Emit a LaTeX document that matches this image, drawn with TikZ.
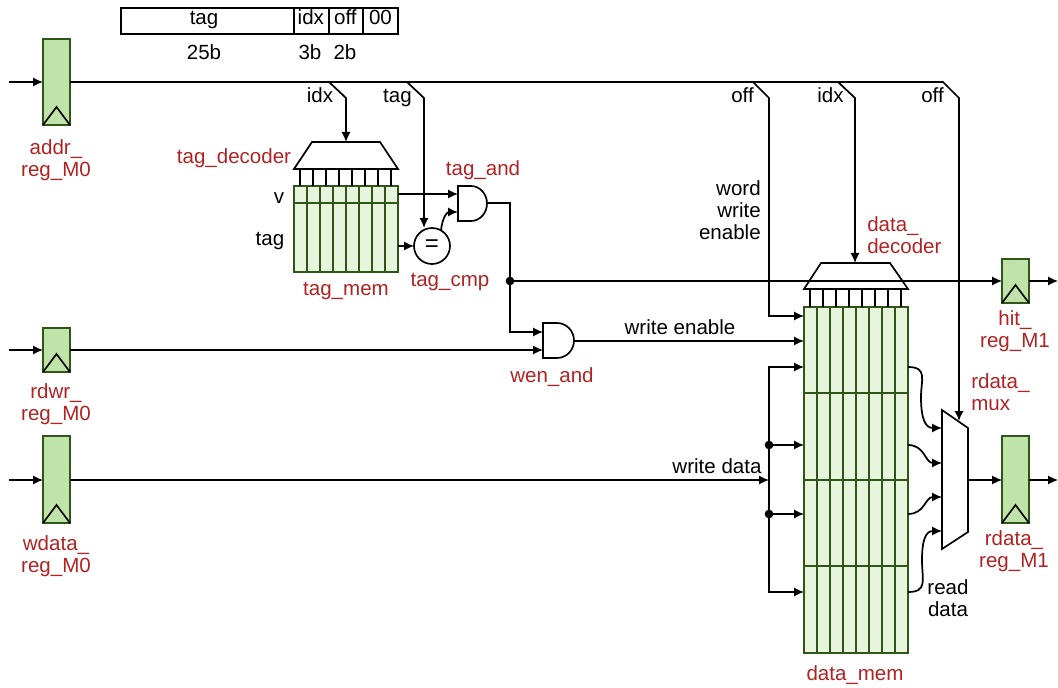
\documentclass[tikz,border=0pt]{standalone}
\usepackage{fontspec}
\setmainfont{Liberation Sans}
\usetikzlibrary{arrows.meta,calc}
\definecolor{regfill}{HTML}{BFE3A8}
\definecolor{memfill}{HTML}{E6F5DC}
\definecolor{gborder}{HTML}{2F5519}
\definecolor{lblred}{HTML}{B22222}
\tikzset{
  wire/.style={line width=1.3pt,black,line join=miter},
  arr/.style={wire,-{Latex[length=7.5pt,width=7pt]}},
  sz/.style 2 args={minimum width=#1*0.75pt,minimum height=#2*0.75pt},
  regbox/.style={draw=gborder,fill=regfill,line width=1.2pt,inner sep=0pt,outer sep=0pt},
  membox/.style={draw=gborder,fill=memfill,line width=1.2pt,inner sep=0pt,outer sep=0pt},
  cellline/.style={draw=gborder,line width=1.3pt},
  txt/.style={font=\fontsize{15.4}{16.6}\selectfont,text=black,inner sep=0pt},
  one/.style={text height=10.5pt,text depth=3.2pt},
  fieldbox/.style={draw=black,line width=1pt,inner sep=0pt,outer sep=0pt,txt,text height=8pt,text depth=3.2pt},
  lbl/.style={txt,text=lblred,align=center},
  dot/.style={circle,fill=black,inner sep=0pt,minimum size=6.5pt},
  decoderbox/.style={inner sep=0pt,outer sep=0pt},
  shape line/.style={draw=black,line width=1.25pt,line join=miter},
}
\begin{document}
\begin{tikzpicture}[x=0.75pt,y=-0.75pt]
\useasboundingbox (0,0) rectangle (1058,688);

% address field
\node[fieldbox,sz={173}{26}] (ftag) at (207.5,21) {tag\kern5.2pt};
\node[fieldbox,sz={35}{26}] (fidx) at (311.5,21) {idx\kern1pt};
\node[fieldbox,sz={34}{26}] (foff) at (346,21) {off\kern1pt};
\node[fieldbox,sz={35}{26}] (fzero) at (380.5,21) {00};
\node[txt,one] (w25) at (204,55) {25b};
\node[txt,one] (w3) at (310,55) {3b};
\node[txt,one] (w2) at (345,55) {2b};

% registers
\node[regbox,sz={27}{86}] (addr) at (56.5,82) {};
\node[regbox,sz={27}{44}] (rdwr) at (56.5,350) {};
\node[regbox,sz={27}{87}] (wdata) at (56.5,479.5) {};
\node[regbox,sz={27}{44}] (hit) at (1015.5,281) {};
\node[regbox,sz={27}{87}] (rdata) at (1015.5,479.5) {};
\draw[shape line] (addr.south west) -- ++(13.5,-18) -- (addr.south east);
\draw[shape line] (rdwr.south west) -- ++(13.5,-18) -- (rdwr.south east);
\draw[shape line] (wdata.south west) -- ++(13.5,-18) -- (wdata.south east);
\draw[shape line] (hit.south west) -- ++(13.5,-18) -- (hit.south east);
\draw[shape line] (rdata.south west) -- ++(13.5,-18) -- (rdata.south east);

% tag memory
\node[membox,sz={104}{86}] (tagmem) at (346,229) {};
\foreach \i in {1,...,7}{\draw[cellline] ($(tagmem.north west)+(13*\i,0)$) -- ($(tagmem.south west)+(13*\i,0)$);}
\draw[cellline] ($(tagmem.north west)+(0,17)$) -- ($(tagmem.north east)+(0,17)$);
\node[decoderbox,sz={104}{27}] (tagdec) at (346,155.5) {};
\draw[shape line] (tagdec.south west) -- ++(18,-27) -- ($(tagdec.north east)+(-18,0)$) -- (tagdec.south east) -- cycle;
\foreach \i in {0,...,7}{\draw[wire] ($(tagmem.north west)+(6+13*\i,0)$) -- ($(tagdec.south west)+(6+13*\i,0)$);}

% data memory
\node[membox,sz={104}{346}] (datamem) at (856,480) {};
\foreach \i in {1,...,7}{\draw[cellline] ($(datamem.north west)+(13*\i,0)$) -- ($(datamem.south west)+(13*\i,0)$);}
\foreach \r in {86,173,259}{\draw[cellline] ($(datamem.north west)+(0,\r)$) -- ($(datamem.north east)+(0,\r)$);}
\node[decoderbox,sz={104}{26}] (datadec) at (856,276) {};
\draw[shape line] (datadec.south west) -- ++(17,-26) -- ($(datadec.north east)+(-18,0)$) -- (datadec.south east) -- cycle;
\foreach \i in {0,...,7}{\draw[wire] ($(datamem.north west)+(6+13*\i,0)$) -- ($(datadec.south west)+(6+13*\i,0)$);}

% comparator
\node[circle,draw=black,line width=1.25pt,inner sep=0pt,outer sep=0pt,minimum size=36*0.75pt,txt,font=\fontsize{18}{18}\selectfont] (cmp) at (432,246) {=};

% gates
\coordinate (tagandin1) at (458,194);
\coordinate (tagandin2) at (458,212);
\coordinate (tagandout) at (487,203);
\draw[shape line] (458,186) -- (471,186) arc[start angle=90,end angle=-90,x radius=16*0.75pt,y radius=17.5*0.75pt] -- (458,221) -- cycle;
\coordinate (wenandin1) at (543,332);
\coordinate (wenandin2) at (543,350);
\coordinate (wenandout) at (574,341);
\draw[shape line] (543,323) -- (557,323) arc[start angle=90,end angle=-90,x radius=17*0.75pt,y radius=17.5*0.75pt] -- (543,358) -- cycle;

% mux
\coordinate (muxin1) at (942,428);
\coordinate (muxin2) at (942,463);
\coordinate (muxin3) at (942,497);
\coordinate (muxin4) at (942,531);
\coordinate (muxout) at (968,480);
\coordinate (muxsel) at (959,421);
\draw[shape line] (942,410) -- (968,428) -- (968,532) -- (942,549) -- cycle;

% free ends
\coordinate (addrin) at (9,82);
\coordinate (rdwrin) at (9,350);
\coordinate (wdatain) at (9,480);
\coordinate (hitout) at (1058,281);
\coordinate (rdataout) at (1058,480);
\coordinate (busend) at (943,82);
\coordinate (tapa) at (329,82);
\coordinate (tapb) at (407,82);
\coordinate (tapc) at (753,82);
\coordinate (tapd) at (838,82);
\coordinate (busj) at (769,480);

\draw[arr] (addrin) -- (addr.west);
\draw[arr] (rdwrin) -- (rdwr.west);
\draw[arr] (wdatain) -- (wdata.west|-wdatain);

% address bus and taps
\draw[arr] (addr.east) -- (busend) -- ++(16,16) -- (muxsel);
\draw[arr] (tapa) -- ++(17,16) -- (tagdec.north);
\draw[arr] (tapb) -- ++(17,16) -- (424,228);
\draw[arr] (tapc) -- ++(16,16) -- (769,316) -- (804,316);
\draw[arr] (tapd) -- ++(17,16) -- (855,263);

% tag path
\draw[arr] (tagmem.east|-tagandin1) -- (tagandin1);
\draw[arr] (tagmem.east|-cmp.west) -- (cmp.west);
\draw[arr] (441,231) .. controls (442,218) and (447,212) .. (tagandin2);
\node[dot] (hitj) at (510,281) {};
\draw[wire] (tagandout) -- (hitj.center|-tagandout) -- (hitj.center);
\draw[arr] (hitj.center) -- (510,332) -- (wenandin1);
\draw[arr] (hitj.center) -- (hit.west);
\draw[arr] (hit.east) -- (hitout);
\draw[arr] (rdwr.east) -- (wenandin2);
\draw[arr] (wenandout) -- (datamem.west|-wenandout);

% write data
\draw[arr] (wdata.east|-busj) -- (busj);
\node[dot] (wj1) at (769,445) {};
\node[dot] (wj2) at (769,514) {};
\draw[arr] (wj1.center) -- (769,367) -- (804,367);
\draw[arr] (wj1.center) -- (datamem.west|-wj1);
\draw[wire] (wj1.center) -- (wj2.center);
\draw[arr] (wj2.center) -- (datamem.west|-wj2);
\draw[arr] (wj2.center) -- (769,592) -- (804,592);

% read data
\draw[arr] (908,367) .. controls (928,367) and (921,380) .. (921,397) .. controls (921,418) and (925,428) .. (muxin1);
\draw[arr] (908,445) .. controls (925,445) and (925,463) .. (muxin2);
\draw[arr] (908,514) .. controls (925,514) and (925,497) .. (muxin3);
\draw[arr] (908,592) .. controls (928,592) and (922,580) .. (922,560) .. controls (922,542) and (925,531) .. (muxin4);
\draw[arr] (muxout) -- (rdata.west|-muxout);
\draw[arr] (rdata.east|-rdataout) -- (rdataout);

% black labels
\node[txt,one] (lidx) at (320,98) {idx};
\node[txt,one] (ltag) at (397.5,98) {tag};
\node[txt,one] (loff) at (742.5,98) {off};
\node[txt,one] (lidx2) at (830.5,98) {idx};
\node[txt,one] (loff2) at (932.5,98) {off};
\node[txt,one] (lv) at (279,199) {v};
\node[txt,one] (ltagrow) at (270,241) {tag};
\node[txt,align=right,anchor=east] (lwwe) at (761,210) {word\\write\\enable};
\node[txt,one] (lwe) at (680,329.5) {write enable};
\node[txt,one] (lwd) at (717,469) {write data};
\node[txt,align=center] (lrd) at (948,598) {read\\data};

% red labels
\node[lbl] (laddr) at (56,160) {addr\_\\reg\_M0};
\node[lbl] (lrdwr) at (56,404) {rdwr\_\\reg\_M0};
\node[lbl] (lwdata) at (56,556) {wdata\_\\reg\_M0};
\node[lbl,one] (ltagdec) at (234,159) {tag\_decoder};
\node[lbl,one] (ltagand) at (483,171) {tag\_and};
\node[lbl,one] (ltagmem) at (346,291) {tag\_mem};
\node[lbl,one] (ltagcmp) at (450,282) {tag\_cmp};
\node[lbl,one] (lwenand) at (552,378) {wen\_and};
\node[lbl,align=left,anchor=west] (ldatadec) at (867,235) {data\_\\decoder};
\node[lbl] (lhit) at (1015,331) {hit\_\\reg\_M1};
\node[lbl,align=left,anchor=west] (lmux) at (971,392) {rdata\_\\mux};
\node[lbl] (lrdata) at (1014,551) {rdata\_\\reg\_M1};
\node[lbl,one] (ldatamem) at (855,676) {data\_mem};
\end{tikzpicture}
\end{document}
